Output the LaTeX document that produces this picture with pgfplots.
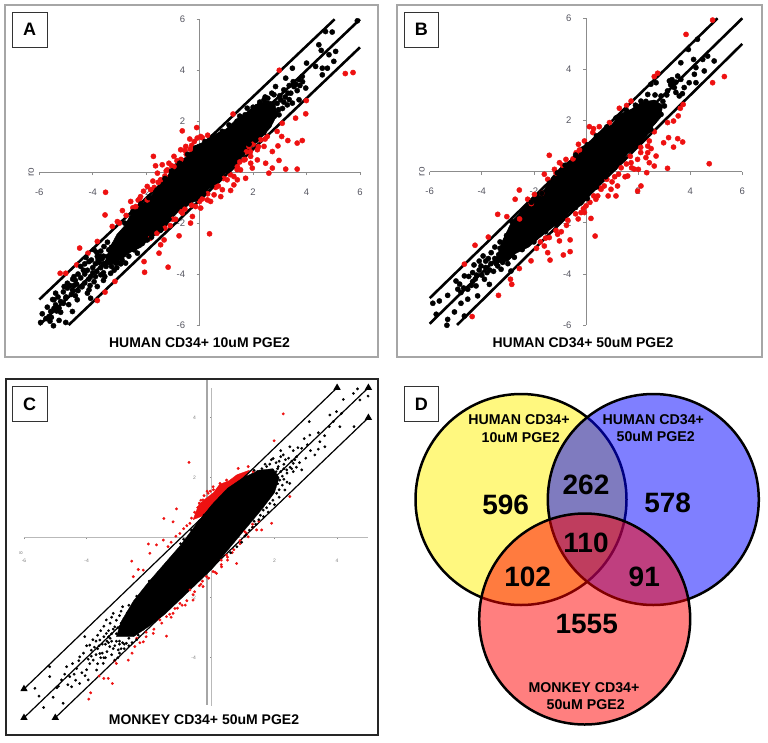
\documentclass[border=0pt]{standalone}
\usepackage{pgfplots}
\pgfplotsset{compat=1.18}
\usepackage{fontspec}
\setmainfont{Liberation Sans}
\definecolor{axgray}{HTML}{8C8C8C}
\definecolor{tickgray}{HTML}{555560}
\definecolor{dotred}{HTML}{EE1111}
\tikzset{capt/.style={font=\fontsize{14}{14}\selectfont\bfseries, text=black},
         vl/.style={font=\fontsize{14.2}{14.2}\selectfont\bfseries, text=black}}
\pgfplotsset{
  scatterax/.style={
    scale only axis, axis lines=center, axis line style={-, color=axgray, line width=0.9pt},
    tick align=outside, major tick length=3pt, tick style={color=axgray, line width=0.7pt},
    xtick={-6,-4,-2,2,4,6}, ytick={-6,-4,-2,2,4,6},
    xticklabels={-6,-4,-2,2,4,6}, yticklabels={-6,-4,-2,2,4,6},
    ticklabel style={color=tickgray, font=\fontsize{9.5}{9.5}\selectfont},
    xticklabel style={yshift=-10pt}, yticklabel style={xshift=-8pt},
    clip=false},
  rdots/.style={only marks, mark=*, color=dotred, mark options={draw=none, fill=dotred}, mark size=2.6pt},
  kdots/.style={only marks, mark=*, color=black, mark options={draw=none, fill=black}, mark size=2.6pt},
  guide/.style={black, line width=2.6pt, no marks}
}
\begin{document}
\begin{tikzpicture}[x=1pt,y=1pt]
\path[use as bounding box] (0,0) rectangle (768,742);
% ---------- page layer in image pixels: frames, captions, Venn diagram
\begin{axis}[at={(0pt,0pt)}, anchor=south west, scale only axis, width=768pt, height=742pt,
  xmin=0, xmax=768, ymin=0, ymax=742, y dir=reverse, hide axis, clip=false]
\draw[color=gray!70, line width=1.4pt] (axis cs:5,5) rectangle (axis cs:378,357);
\draw[color=gray!70, line width=1.4pt] (axis cs:397,5) rectangle (axis cs:762,357);
\draw[color=black!85, line width=1.6pt] (axis cs:6,379) rectangle (axis cs:378,735);
% Venn: half transparent fills over full strength outlines
\fill[color=yellow, fill opacity=0.5] (axis cs:521,499.5) circle[radius=105.5];
\draw[black, line width=2.5pt] (axis cs:521,499.5) circle[radius=105.5];
\fill[color=blue, fill opacity=0.5] (axis cs:653.3,499.5) circle[radius=105.5];
\draw[black, line width=2.5pt] (axis cs:653.3,499.5) circle[radius=105.5];
\fill[color=red, fill opacity=0.5] (axis cs:584.7,619) circle[radius=105.5];
\draw[black, line width=2.5pt] (axis cs:584.7,619) circle[radius=105.5];
\addplot[only marks, mark=none, nodes near coords, point meta=explicit symbolic,
  every node near coord/.style={anchor=center, font=\fontsize{28}{28}\selectfont\bfseries, text=black}]
  table[meta=n] {
x y n
505.7 505 596
586 485 262
667.7 503.3 578
586 543.3 110
527.7 576.7 102
644.3 576.7 91
586.7 624 1555
};
% labels
\foreach \xx/\yy/\t in {12.3/12.3/A,404/12.3/B,12.3/386.7/C,404/386.7/D}{
  \edef\tmp{\noexpand\draw[color=black!80, line width=0.9pt, fill=white] (axis cs:\xx,\yy) rectangle +(axis direction cs:34.8,34.8)
    node[midway, text=black, font=\noexpand\fontsize{18}{18}\noexpand\selectfont\noexpand\bfseries] {\t};}
  \tmp
}
\node[capt] at (axis cs:199.5,342.7) {HUMAN CD34+ 10uM PGE2};
\node[capt] at (axis cs:583,342.7) {HUMAN CD34+ 50uM PGE2};
\node[capt] at (axis cs:204,720) {MONKEY CD34+ 50uM PGE2};
\node[vl] at (axis cs:519,420) {HUMAN CD34+};
\node[vl] at (axis cs:520.7,437.7) {10uM PGE2};
\node[vl] at (axis cs:653.3,419.3) {HUMAN CD34+};
\node[vl] at (axis cs:655.7,436.7) {50uM PGE2};
\node[vl] at (axis cs:584,687.7) {MONKEY CD34+};
\node[vl] at (axis cs:585.7,705) {50uM PGE2};
\end{axis}
% ---------- Panel A
\begin{axis}[scatterax, at={(39.3pt,417pt)}, anchor=south west, width=320.7pt, height=305.7pt,
  xmin=-6,xmax=6,ymin=-6,ymax=6]
\node[rotate=90, color=tickgray, font=\fontsize{10}{10}\selectfont] at (axis cs:-6.3,0) {ro};
\addplot[rdots] coordinates {
(5.74,3.91)(5.45,3.87)(2.98,4.0)(1.25,2.28)(3.99,2.81)(3.97,2.29)(3.59,2.12)(3.84,1.24)(3.65,1.14)(3.30,1.24)
(3.07,1.40)(2.9,1.6)(3.09,1.92)(2.93,1.03)(2.72,0.81)(2.97,0.46)(2.72,0.16)(2.59,-0.04)(3.22,0.12)(3.65,0.12)
(2.47,0.35)(2.16,0.48)(1.97,0.16)(2.16,0.88)(1.91,0.62)(1.85,1.0)(2.28,1.27)(2.53,1.40)(1.66,0.48)(1.53,0.09)
(1.41,-0.30)(1.72,-0.24)(1.28,-0.5)(1.16,-0.72)(0.85,-0.69)(0.79,-0.96)(0.41,-1.15)(0.29,-1.09)(0.37,-2.42)(0.04,-1.41)
(-0.27,-1.74)(-0.34,-2.0)(-0.77,-2.5)(-0.65,-1.61)(-1.33,-2.66)(-1.46,-2.85)(-1.52,-3.18)(-1.18,-3.73)(-2.08,-3.51)(-2.06,-3.93)
(-3.17,-4.29)(-3.54,-4.71)(-3.83,-5.04)(-0.65,1.62)(-0.11,1.75)(-0.37,1.3)(-0.09,1.34)(-0.71,0.88)(-1.73,0.62)(-1.65,0.25)
(-1.4,0.29)(-1.58,-0.04)(-1.15,0.35)(-0.96,0.62)(-1.46,-0.3)(-1.83,-0.69)(-3.52,-0.79)(-3.54,-1.68)(-2.21,-0.96)(-2.39,-1.35)
(-2.89,-1.51)(-3.08,-1.94)(-3.27,-2.13)(-3.83,-2.72)(-4.49,-2.98)(-4.18,-3.18)(-4.6,-3.64)(-5.22,-3.97)(-5.01,-3.97)(-1.96,-0.56)
(-1.21,0.09)(-0.52,1.01)(0.04,1.4)(-0.96,0.22)(-1.96,-1.09)(-2.58,-1.15)(2.41,1.01)(1.91,0.35)(1.41,0.22)(1.28,-0.17)
(1.03,-0.3)(0.54,-0.89)(0.70,-0.55)(0.10,-1.05)(-0.15,-1.35)(-0.55,-1.45)(-0.9,-1.85)(-1.1,-2.1)(-0.5,0.7)(-0.3,1.05)
(-0.85,0.45)(-1.3,-0.15)(-1.75,-0.35)(-2.1,-0.75)(-2.3,-1.1)(-2.75,-1.7)(-3.0,-2.0)(1.75,0.8)(2.0,1.1)(1.5,0.4)
(-0.7,0.5)(-0.55,0.85)(-0.35,0.9)(-0.2,1.2)(0.1,1.35)(0.3,1.45)(-1.05,0.25)(-1.25,0.05)(-1.55,-0.4)(-1.7,-0.6)
(-2.25,-1.05)(-2.5,-1.4)(0.9,-0.25)(0.6,-0.6)(0.3,-0.85)(0.0,-1.15)(-0.3,-1.3)(-0.7,-1.55)(-1.0,-1.85)(-1.3,-2.2)
(1.15,-0.1)(1.4,0.1)(1.7,0.5)(1.9,0.8)(2.2,1.0)(2.45,1.3)(-1.6,-2.4)(-1.85,-2.6)
};
\addplot[fill=black, draw=black, line width=0.5pt] coordinates {
(-3.6,-3.7)(-3.35,-2.95)(-3.1,-2.45)(-2.8,-2.1)(-2.5,-1.5)(-2.15,-1.25)(-1.75,-0.85)(-1.5,-0.45)(-1.2,-0.15)(-0.95,0.3)
(-0.5,0.6)(-0.15,1.05)(0.3,1.25)(0.6,1.5)(1.0,1.7)(1.35,2.05)(1.7,2.3)(2.1,2.65)(2.5,2.8)(2.8,2.75)
(2.9,2.25)(2.65,1.75)(2.35,1.4)(1.95,0.95)(1.65,0.7)(1.35,0.25)(1.0,0.0)(0.7,-0.4)(0.35,-0.65)(0.05,-1.05)
(-0.4,-1.25)(-0.8,-1.55)(-1.1,-1.9)(-1.4,-2.35)(-1.8,-2.55)(-2.2,-2.95)(-2.6,-3.15)(-3.0,-3.45)(-3.6,-3.7)};
\addplot[kdots] coordinates {
(5.9,5.94)(4.71,5.52)(4.96,5.5)(4.46,5.0)(4.55,4.78)(5.09,4.74)(4.84,4.61)(5.02,4.35)(4.0,4.28)(4.34,4.15)
(4.59,4.08)(4.78,4.08)(4.59,3.82)(3.47,4.08)(3.22,3.69)(3.84,3.76)(3.72,3.63)(3.53,3.36)(3.97,3.3)(2.84,3.36)
(3.15,3.23)(3.41,3.1)(2.78,3.04)(3.03,2.84)(3.47,2.71)(3.72,2.84)(3.28,2.64)(1.78,2.51)(2.41,2.84)(2.16,2.58)
(2.66,2.58)(2.97,2.25)(3.6,3.45)(3.3,3.1)(2.9,2.7)(3.1,2.5)(3.0,3.0)(2.55,2.9)(2.95,2.45)(3.75,3.4)
(2.6,2.2)(2.85,2.3)(1.95,2.35)(1.5,2.2)(1.65,2.0)(3.35,3.4)(3.5,3.55)(3.2,2.95)(2.7,3.1)(2.45,2.95)
(2.25,2.75)(3.85,3.55)(3.65,3.2)(3.15,2.75)(3.35,2.85)
(-5.95,-5.9)(-5.89,-5.56)(-5.57,-5.47)(-5.47,-6.03)(-5.26,-5.82)(-5.39,-4.75)(-5.07,-4.49)(-4.7,-4.1)(-5.2,-5.08)(-5.26,-5.34)
(-4.76,-5.47)(-4.58,-5.01)(-4.2,-4.75)(-3.83,-4.49)(-4.08,-4.1)(-3.7,-4.03)(-4.95,-4.36)(-4.45,-3.7)(-4.14,-3.51)(-3.83,-3.31)
(-3.58,-2.92)(-3.45,-3.31)(-3.14,-3.57)(-2.77,-3.57)(-3.33,-3.97)(-2.89,-3.25)(-2.33,-3.18)(-1.96,-2.66)(-1.46,-2.26)(-4.08,-4.95)
(-4.14,-4.62)(-4.76,-4.62)(-5.01,-4.95)(-5.45,-5.01)(-5.64,-5.67)(-5.01,-5.9)(-5.39,-5.21)(-5.75,-5.75)(-4.95,-4.55)(-4.3,-4.0)
(-4.0,-3.75)(-3.75,-3.55)(-3.6,-3.3)(-3.5,-3.7)(-4.25,-3.35)(-3.95,-3.05)(-3.45,-2.75)(-3.7,-3.1)(-3.1,-3.75)(-4.65,-4.25)
(-5.5,-5.0)(-5.3,-4.9)(-5.1,-4.7)(-5.0,-4.9)(-4.85,-4.45)(-4.8,-4.8)(-4.6,-4.4)(-4.55,-4.65)(-4.45,-4.15)(-4.4,-4.5)
(-4.3,-4.35)(-4.2,-3.85)(-4.15,-4.2)(-4.0,-3.95)(-3.95,-4.3)(-3.9,-3.6)(-3.85,-3.9)(-3.7,-3.75)(-3.65,-3.4)(-3.6,-3.95)
(-3.55,-3.6)(-3.4,-3.4)(-3.4,-3.05)(-3.3,-3.7)(-3.2,-3.2)(-3.2,-2.85)(-3.05,-3.3)(-3.0,-2.75)(-2.9,-3.45)(-3.6,-4.25)
(-5.35,-5.45)(-5.1,-5.15)(-4.9,-5.2)(-4.65,-4.85)(-5.6,-5.85)(-5.7,-5.3)(-4.35,-3.85)(-3.8,-3.45)(-2.65,-3.3)(-2.45,-3.05)
(-2.8,-2.0)(-2.5,-1.55)(-2.2,-1.25)(-1.9,-1.0)(-1.6,-0.7)(-1.3,-0.25)(-1.05,0.05)(-0.75,0.35)(-0.45,0.7)(-0.15,0.95)
(0.2,1.2)(0.5,1.4)(0.85,1.6)(1.1,1.85)(1.4,2.0)(1.7,2.25)(2.0,2.55)(2.25,2.65)(2.8,2.2)(2.6,1.85)
(2.4,1.55)(2.1,1.25)(1.85,1.1)(1.6,0.7)(1.3,0.4)(1.05,0.05)(0.75,-0.25)(0.45,-0.55)(0.15,-0.85)(-0.15,-1.05)
(-0.5,-1.25)(-0.85,-1.45)(-1.15,-1.85)(-1.45,-2.25)(-1.8,-2.55)(-2.15,-2.8)(-2.5,-3.0)(-2.85,-3.25)
(-4.75,-4.2)(-4.55,-4.0)(-4.3,-3.6)(-4.05,-3.45)(-3.85,-3.15)(-3.6,-3.6)(-3.9,-4.1)(-4.1,-4.45)(-3.55,-4.1)(-3.35,-3.55)
(-3.25,-3.5)(-2.95,-3.6)(-5.45,-5.35)(-5.55,-5.7)(-5.2,-5.5)(-4.7,-4.45)(-3.75,-3.3)(-3.3,-2.95)(-3.2,-3.85)(-3.05,-3.55)
};
\addplot[guide] coordinates {(-6,-5)(5.05,6)};
\addplot[guide] coordinates {(-6,-6)(6,6)};
\addplot[guide] coordinates {(-4.9,-6)(6,4.9)};
\end{axis}
% ---------- Panel B
\begin{axis}[scatterax, at={(429.7pt,417pt)}, anchor=south west, width=312.6pt, height=306.7pt,
  xmin=-6,xmax=6,ymin=-6,ymax=6]
\node[rotate=90, color=tickgray, font=\fontsize{10}{10}\selectfont] at (axis cs:-6.3,0) {ro};
\addplot[rdots] coordinates {
(4.86,5.93)(3.84,5.37)(2.75,3.85)(2.62,3.72)(5.31,3.72)(4.86,3.48)(4.73,0.31)(3.71,1.16)(3.52,1.29)(3.36,0.96)
(3.17,1.33)(2.98,1.13)(3.13,0.13)(3.73,2.63)(3.62,2.48)(3.54,2.18)(3.36,1.98)(3.13,1.92)(2.62,1.56)(2.43,1.2)
(2.37,1.0)(2.69,0.61)(2.37,0.74)(2.62,0.22)(2.43,0.35)(2.33,-0.04)(2.11,-0.56)(1.98,-0.76)(1.98,0.48)(1.73,0.35)
(2.01,0.09)(1.6,-0.17)(1.21,-0.56)(1.15,-0.95)(0.96,-0.69)(0.7,-0.56)(0.58,-0.69)(0.38,-1.08)(0.35,-2.52)(0.19,-1.83)
(-0.06,-1.6)(0.0,-1.34)(-0.19,-1.6)(-0.61,-2.67)(-0.61,-3.13)(-0.87,-3.26)(-1.09,-2.45)(-1.02,-2.71)(-1.41,-2.58)(-1.6,-2.91)
(-1.47,-3.17)(-1.38,-3.46)(-2.11,-3.49)(-2.56,-3.79)(-2.9,-4.21)(-2.85,-4.41)(-3.36,-4.84)(-4.37,-5.67)(-4.67,-3.62)(-4.26,-2.88)
(-3.75,-2.56)(-3.39,-1.67)(-3.04,-1.76)(-2.72,-1.08)(-2.56,-0.72)(-2.24,-1.08)(-1.98,-0.89)(-1.41,0.64)(-1.02,0.35)(-1.6,-0.1)
(-1.47,-0.3)(-1.21,0.09)(-0.29,1.07)(-0.38,0.74)(-0.77,0.48)(0.13,1.76)(0.29,1.68)(0.51,1.76)(0.26,1.53)(-0.06,1.2)
(0.9,1.92)(1.28,2.48)(1.56,2.59)(1.73,2.76)(1.35,0.15)(1.5,-0.2)(1.85,0.1)(1.1,-0.2)(0.85,-0.95)(0.45,-0.95)
(0.15,-1.2)(-0.3,-1.85)(-0.75,-2.1)(-0.95,-2.35)(-1.75,-2.75)(-1.9,-3.0)(2.3,0.55)(2.5,0.9)(2.1,0.75)(1.7,0.6)
(1.75,0.15)(1.55,0.3)(1.25,-0.1)(1.0,-0.4)(0.8,-0.3)(0.55,-0.65)(0.3,-0.95)(-0.1,-1.45)(-0.4,-1.65)(-0.7,-1.9)
(-1.15,-2.3)(-1.55,-2.6)(-0.5,0.5)(-0.25,0.85)(-0.9,0.25)(-1.15,-0.05)(-1.7,-0.85)(-2.1,-1.25)(-2.55,-1.85)(2.1,0.95)
};
\addplot[fill=black, draw=black, line width=0.5pt] coordinates {
(-3.5,-3.6)(-3.25,-2.8)(-2.85,-1.95)(-2.45,-1.5)(-2.1,-1.05)(-1.6,-0.7)(-1.3,-0.2)(-0.95,0.2)(-0.6,0.45)(-0.2,0.95)
(0.25,1.2)(0.6,1.6)(1.0,1.85)(1.3,2.25)(1.75,2.45)(2.1,2.7)(2.6,2.8)(2.95,2.6)(2.85,2.1)(2.55,1.75)
(2.3,1.35)(1.95,0.95)(1.6,0.7)(1.25,0.2)(0.9,-0.05)(0.6,-0.45)(0.2,-0.85)(-0.15,-1.3)(-0.6,-1.55)(-0.95,-1.95)
(-1.3,-2.2)(-1.8,-2.6)(-2.2,-2.95)(-2.7,-3.2)(-3.0,-3.5)(-3.5,-3.6)};
\addplot[kdots] coordinates {
(4.28,5.18)(3.93,4.78)(4.13,4.39)(3.64,4.26)(4.92,4.33)(4.67,4.52)(4.48,4.39)(4.22,4.07)(4.54,3.94)(4.16,3.81)
(4.22,3.48)(3.96,3.48)(3.2,3.55)(3.52,3.74)(3.64,3.61)(3.39,3.29)(3.13,3.16)(3.77,3.29)(3.58,2.96)(2.88,2.96)
(2.37,3.02)(2.69,3.48)(2.11,2.76)(2.62,2.7)(3.01,2.57)(2.49,3.42)(2.88,2.24)(2.62,2.05)(2.49,1.66)(2.95,2.75)
(2.75,2.55)(3.25,3.4)(3.45,3.5)(3.35,3.45)(2.3,2.75)(3.1,3.0)(3.45,3.1)(3.7,3.05)(2.65,3.0)(3.3,3.6)
(-5.88,-5.15)(-5.63,-5.06)(-5.75,-5.58)(-5.31,-4.84)(-5.05,-5.49)(-5.31,-5.78)(-5.34,-6.01)(-4.67,-5.65)(-4.8,-5.15)(-4.54,-4.99)
(-4.99,-4.28)(-4.67,-4.08)(-4.35,-3.95)(-4.16,-4.86)(-4.54,-4.6)(-4.03,-3.69)(-3.9,-4.21)(-3.64,-3.17)(-3.39,-3.69)(-3.26,-3.82)
(-2.88,-3.89)(-3.13,-3.3)(-2.88,-2.26)(-2.62,-2.91)(-3.71,-4.41)(-4.22,-4.47)(-4.8,-4.73)(-4.92,-4.6)(-4.5,-4.1)(-4.2,-4.05)
(-4.1,-3.85)(-3.85,-3.75)(-3.75,-3.4)(-3.5,-3.4)(-3.3,-3.0)(-3.55,-3.9)(-3.0,-3.6)(-4.35,-4.3)(-3.95,-3.3)(-3.65,-3.6)
(-4.85,-4.4)(-4.7,-4.55)(-4.4,-4.45)(-4.25,-4.2)(-4.0,-4.05)(-3.85,-3.5)(-3.7,-3.85)(-3.45,-3.6)(-3.35,-3.25)(-3.2,-3.55)
(-2.95,-3.3)(-2.75,-3.35)(-3.5,-2.95)(-3.3,-2.75)(-3.05,-2.5)(-4.3,-3.65)(-4.1,-3.5)(-3.8,-3.95)
(-2.85,-1.95)(-2.45,-1.55)(-2.1,-1.2)(-1.7,-0.85)(-1.4,-0.45)(-1.1,-0.05)(-0.8,0.25)(-0.4,0.65)(0.05,1.05)(0.4,1.4)
(0.8,1.75)(1.15,2.1)(1.55,2.4)(1.9,2.6)(2.8,2.2)(2.6,1.95)(2.4,1.6)(2.15,1.25)(1.75,0.9)(1.45,0.5)
(1.1,0.15)(0.75,-0.2)(0.4,-0.6)(0.05,-1.05)(-0.4,-1.4)(-0.8,-1.7)(-1.15,-2.05)(-1.55,-2.35)(-2.0,-2.75)(-2.45,-3.05)
};
\addplot[guide] coordinates {(-6,-4.95)(5.05,6)};
\addplot[guide] coordinates {(-6,-5.95)(6,6)};
\addplot[guide] coordinates {(-4.95,-6)(6,5)};
\end{axis}
% ---------- Panel C
\begin{axis}[scatterax, at={(24pt,36.3pt)}, anchor=south west, width=344.4pt, height=318pt,
  xmin=-6,xmax=5,ymin=-5.6,ymax=5,
  axis line style={-, color=gray!55, line width=0.8pt}, major tick length=1.5pt,
  xtick={-6,-4,2,4}, xticklabels={-6,-4,2,4}, ytick={-4,-2,2,4}, yticklabels={-4,-2,2,4},
  ticklabel style={color=gray, font=\fontsize{5}{5}\selectfont},
  xticklabel style={yshift=-6pt}, yticklabel style={xshift=-3pt}]
\node[rotate=90, color=gray, font=\fontsize{5}{5}\selectfont] at (axis cs:-6.1,-0.5) {8};
\addplot[color=gray!70, line width=2.2pt, no marks] coordinates {(-0.15,5.25)(-0.15,-5.58)};
\addplot[fill=dotred, draw=dotred, line width=0.3pt] coordinates {
(-0.6,0.6)(-0.42,1.1)(-0.2,1.3)(0.05,1.5)(0.25,1.78)(0.55,1.9)(0.8,2.1)(1.2,2.25)(1.0,1.8)(0.3,1.3)(-0.1,0.8)(-0.6,0.6)};
\addplot[rdots, mark size=1.25pt] coordinates {
(2.28,4.13)(1.99,3.23)(-0.73,2.51)(0.84,2.31)(1.16,2.37)(0.26,1.81)(0.04,1.7)(-0.12,1.48)(-0.33,1.14)(-0.38,0.92)
(-1.13,0.96)(-1.53,0.64)(-1.24,0.53)(-1.55,-0.08)(-2.03,-0.21)(-1.77,-0.24)(-1.98,-0.52)(-2.56,-0.78)(-2.35,-1.06)(-2.51,-1.3)
(-2.19,-1.08)(-1.4,-0.3)(-1.02,0.14)(-0.7,0.48)(-0.49,0.81)(0.36,1.7)(0.15,1.53)(-0.12,1.26)(-0.22,1.09)(-0.28,1.26)
(-0.01,1.37)(0.47,1.92)(0.68,1.87)(0.89,2.03)(1.32,2.2)(2.49,1.37)(1.91,0.48)(1.59,0.26)(1.43,0.26)(1.16,0.03)
(0.79,-0.86)(0.47,-0.58)(0.31,-0.97)(0.15,-1.19)(0.04,-1.13)(-0.17,-1.3)(-0.28,-1.63)(-0.6,-2.08)(-0.7,-1.74)(-1.02,-2.19)
(-1.24,-2.52)(-1.18,-2.36)(-1.45,-2.63)(-1.66,-2.74)(-1.45,-3.28)(-1.87,-3.19)(-2.19,-3.47)(-2.46,-3.63)(-2.67,-4.08)(-3.05,-4.19)
(-3.18,-4.86)(-3.31,-4.69)(-3.45,-4.69)(-3.6,-4.61)(-3.87,-5.17)(-3.93,-5.38)(-0.45,1.0)(-0.35,1.25)(-0.25,1.4)(-0.15,1.55)
(-0.05,1.55)(0.05,1.6)(0.2,1.65)(0.3,1.72)(0.45,1.78)(0.55,1.85)(0.75,1.95)(-0.4,1.15)(-0.55,0.85)(-0.65,0.65)
(-0.8,0.4)(-0.9,0.3)(-1.15,0.05)(-1.3,-0.15)(-0.3,-1.45)(-0.4,-1.6)(-0.55,-1.8)(-0.8,-2.1)(-0.95,-2.25)(-1.35,-2.55)
(0.3,-0.75)(0.5,-0.75)(0.9,-0.2)(0.65,-0.5)(1.05,0.2)(1.3,0.45)(-2.1,-3.3)(-2.3,-3.5)(-2.55,-3.85)(-3.1,-4.1)
(-0.85,-2.25)(-1.1,-2.35)(-1.3,-2.65)(-1.6,-2.85)(-1.85,-3.05)(-2.1,-3.15)(-2.4,-3.35)(-0.6,-1.9)(-0.35,-1.55)(-0.1,-1.35)
(0.1,-1.15)(0.3,-0.9)(0.5,-0.65)(0.7,-0.4)(0.9,-0.1)(1.1,0.15)(1.3,0.35)(1.5,0.55)
};
\addplot[fill=black, draw=black, line width=0.3pt] coordinates {
(-3.05,-3.3)(-2.9,-2.8)(-2.5,-2.1)(-2.0,-1.45)(-1.5,-0.85)(-1.0,-0.25)(-0.5,0.45)(0.0,1.1)(0.5,1.65)(1.0,2.0)
(1.5,2.25)(1.95,2.3)(2.15,2.0)(2.0,1.5)(1.6,0.95)(1.2,0.45)(0.8,-0.05)(0.4,-0.55)(0.0,-1.05)(-0.5,-1.55)
(-1.0,-2.05)(-1.5,-2.55)(-2.0,-2.95)(-2.5,-3.3)(-3.05,-3.3)};
\addplot[kdots, mark size=1.2pt] coordinates {
(4.99,4.72)(4.65,4.96)(4.52,4.81)(4.2,4.61)(4.73,4.59)(4.54,3.7)(4.14,4.14)(3.98,4.2)(3.77,4.09)(3.88,3.87)
(4.09,3.7)(3.61,3.03)(3.29,2.76)(3.45,3.2)(3.13,3.42)(3.11,3.87)(2.87,2.98)(2.71,2.7)(2.49,3.03)(2.28,2.76)
(2.6,2.48)(2.87,2.26)(2.39,2.26)(2.12,2.37)(1.96,2.64)(1.75,2.37)(2.49,1.81)(2.17,1.92)(1.96,2.03)(2.33,1.59)
(2.07,1.48)(1.85,1.14)(1.64,0.92)(2.25,2.05)(2.4,2.15)(2.05,2.2)(1.85,2.45)(1.6,2.3)(2.6,2.2)(2.25,1.75)
(2.0,1.7)(1.95,1.25)(1.75,1.0)(1.5,0.6)(1.3,0.35)(1.1,0.1)(2.15,2.55)(2.3,2.45)(2.55,2.55)(1.45,2.2)
(2.7,2.35)(2.45,2.65)(2.2,2.9)(1.85,2.15)(2.15,1.6)(1.55,0.75)(1.35,0.55)(0.95,-0.15)(0.8,-0.3)(0.6,-0.5)
(2.05,1.95)(2.1,2.3)(2.2,2.2)(1.95,2.25)(2.3,1.95)(2.35,2.6)(2.5,2.35)(2.65,2.6)(2.8,2.5)(2.15,1.35)
(1.95,1.5)(1.7,1.6)(2.1,1.8)(1.9,1.9)(2.3,2.3)(1.7,2.45)(1.75,2.2)(1.55,2.2)(1.35,2.25)(2.4,1.85)
(2.2,2.7)(2.05,2.5)(1.9,2.6)(2.0,1.1)(1.8,0.85)(1.65,0.7)(1.4,0.45)(1.2,0.25)(1.05,0.05)(2.55,2.3)
(3.0,2.65)(3.4,2.95)(3.05,3.1)(2.95,3.3)(3.6,3.4)(3.75,3.7)(3.4,3.5)(2.6,2.9)(2.75,3.0)(3.15,2.9)
(-5.65,-5.02)(-5.52,-5.28)(-5.37,-5.66)(-5.18,-4.63)(-5.18,-4.3)(-5.07,-5.32)(-4.8,-4.74)(-4.75,-5.52)(-4.64,-4.3)(-4.48,-4.97)
(-4.54,-4.63)(-4.22,-4.86)(-4.22,-3.97)(-4.32,-4.36)(-3.95,-4.74)(-4.06,-3.3)(-3.9,-3.58)(-3.68,-4.41)(-3.79,-4.08)(-3.58,-3.86)
(-3.47,-4.19)(-3.58,-3.41)(-3.37,-3.19)(-3.26,-3.63)(-3.1,-4.08)(-2.99,-3.74)(-3.37,-2.74)(-3.15,-2.52)(-3.1,-2.97)(-2.89,-3.19)
(-2.73,-3.52)(-3.5,-3.55)(-3.45,-3.3)(-3.3,-3.5)(-3.2,-3.2)(-3.05,-3.45)(-3.0,-3.0)(-2.9,-2.85)(-2.85,-3.5)(-2.8,-2.7)
(-3.65,-3.7)(-3.7,-3.9)(-3.4,-4.0)(-3.2,-3.9)(-3.0,-4.0)(-2.8,-3.7)(-3.55,-3.1)(-3.25,-2.85)(-2.95,-2.6)(-2.7,-2.5)
(-2.65,-3.35)(-2.55,-2.75)(-2.45,-3.2)(-2.35,-3.25)(-2.5,-2.2)(-2.4,-1.95)(-2.1,-1.65)(-2.0,-1.45)(-1.8,-1.3)(-1.6,-1.05)
(-1.45,-0.85)(-1.2,-0.55)(-1.0,-0.2)(-3.85,-3.75)(-3.9,-4.2)(-4.0,-4.4)(-4.15,-4.5)(-4.4,-4.55)(-4.6,-4.9)(-4.95,-5.0)
(-3.6,-3.6)(-3.55,-4.0)(-3.35,-3.8)(-3.25,-3.35)(-3.15,-3.7)(-3.05,-3.2)(-2.95,-3.55)(-2.9,-3.05)(-2.95,-3.85)(-3.15,-3.05)
(-3.3,-3.1)(-3.4,-3.55)(-3.7,-3.45)(-3.75,-3.65)(-3.5,-3.85)(-2.7,-3.1)(-2.75,-2.9)(-2.9,-2.45)(-3.05,-2.75)(-3.2,-2.65)
(-3.45,-2.95)(-3.65,-3.25)(-3.8,-3.4)(-4.0,-3.6)(-4.1,-3.85)(-4.25,-4.1)(-3.85,-3.95)(-3.95,-4.05)(-3.65,-4.2)(-3.45,-4.0)
(-4.45,-4.2)(-4.7,-4.55)(-4.9,-4.95)(-4.35,-4.75)(-4.05,-4.6)(-2.85,-2.3)(-2.65,-2.25)(-2.6,-2.95)(-2.4,-3.1)(-2.2,-3.05)
(-2.35,-2.0)(-2.2,-1.8)(-1.9,-1.4)(-1.7,-1.15)(-0.9,-0.05)(-0.65,0.25)(-0.4,0.55)(-0.25,0.75)
(-2.55,-3.5)(-2.8,-3.55)(-3.3,-3.3)(-2.65,-3.6)(-2.95,-3.45)(-2.4,-3.4)(-3.2,-3.45)(-3.1,-3.6)(-2.9,-3.7)(-3.35,-3.45)
};
\addplot[black, line width=1.2pt, mark=triangle*, mark size=3pt, mark options={solid}] coordinates {(-6,-5.04)(4,5)};
\addplot[black, line width=1.2pt, mark=triangle*, mark size=3pt] coordinates {(-6,-6)(5,5)};
\addplot[black, line width=1.2pt, mark=triangle*, mark size=3pt] coordinates {(-5,-6)(5,4)};
\end{axis}
\end{tikzpicture}
\end{document}
